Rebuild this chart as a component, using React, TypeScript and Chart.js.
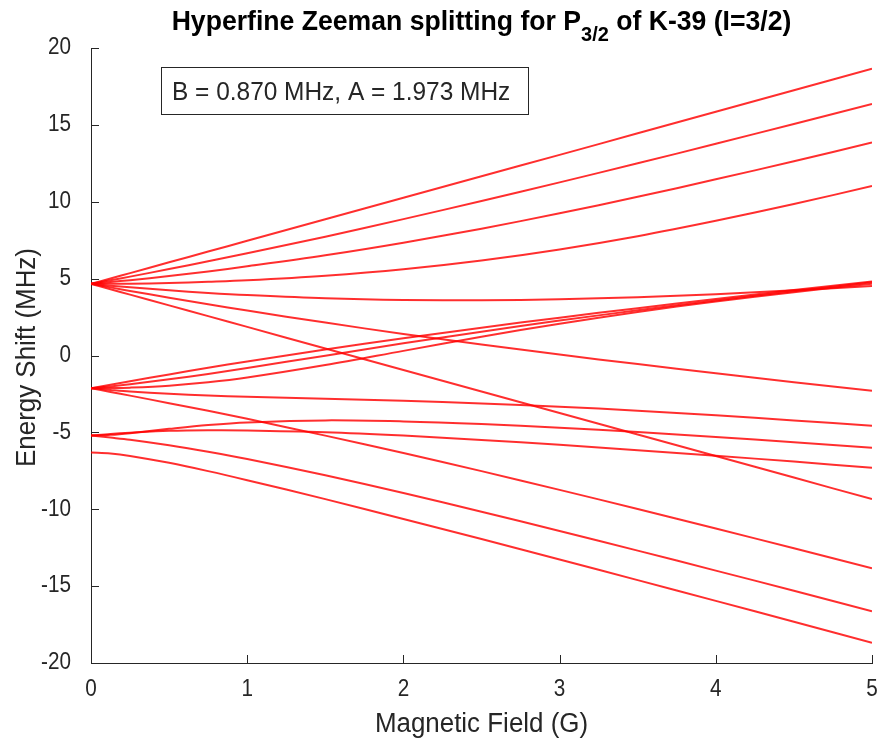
import React, { useEffect, useRef } from "react";
import { Chart, registerables } from "chart.js";

Chart.register(...registerables);

// Magnetic field samples (G)
const fieldG = [0, 0.125, 0.25, 0.5, 0.75, 1, 1.5, 2, 2.5, 3, 3.5, 4, 4.5, 5];

// Energy of each hyperfine sublevel (MHz), grouped by m_F
const mFplus3 = [4.66, 5.01, 5.36, 6.06, 6.76, 7.46, 8.86, 10.26, 11.66, 13.05, 14.45, 15.85, 17.25, 18.65];
const mFplus2a = [4.66, 4.89, 5.13, 5.62, 6.13, 6.65, 7.73, 8.87, 10.05, 11.26, 12.5, 13.77, 15.06, 16.36];
const mFplus1a = [4.66, 4.78, 4.9, 5.17, 5.47, 5.8, 6.52, 7.34, 8.25, 9.25, 10.32, 11.46, 12.63, 13.85];
const mFzeroA = [4.66, 4.66, 4.67, 4.71, 4.79, 4.89, 5.19, 5.61, 6.18, 6.9, 7.76, 8.76, 9.85, 11.02];
const mFminus1a = [4.66, 4.54, 4.44, 4.24, 4.07, 3.93, 3.72, 3.61, 3.59, 3.66, 3.79, 3.99, 4.24, 4.52];
const mFminus2a = [4.66, 4.43, 4.2, 3.76, 3.33, 2.92, 2.14, 1.4, 0.72, 0.06, -0.56, -1.16, -1.74, -2.3];
const mFminus3 = [4.66, 4.31, 3.96, 3.26, 2.56, 1.86, 0.46, -0.94, -2.34, -3.74, -5.14, -6.54, -7.94, -9.34];
const mFplus2b = [-2.13, -1.9, -1.67, -1.23, -0.8, -0.39, 0.39, 1.12, 1.81, 2.46, 3.08, 3.68, 4.26, 4.82];
const mFplus1b = [-2.13, -2.01, -1.87, -1.55, -1.2, -0.81, -0.01, 0.79, 1.55, 2.27, 2.94, 3.58, 4.18, 4.76];
const mFzeroB = [-2.13, -2.12, -2.09, -1.96, -1.74, -1.43, -0.62, 0.3, 1.22, 2.07, 2.83, 3.51, 4.12, 4.67];
const mFminus1b = [-2.13, -2.24, -2.34, -2.49, -2.6, -2.68, -2.81, -2.95, -3.12, -3.33, -3.59, -3.89, -4.22, -4.57];
const mFminus2b = [-2.13, -2.37, -2.61, -3.1, -3.6, -4.12, -5.21, -6.34, -7.52, -8.74, -9.98, -11.25, -12.54, -13.84];
const mFplus1c = [-5.21, -5.1, -5.02, -4.9, -4.86, -4.87, -4.99, -5.21, -5.49, -5.81, -6.16, -6.52, -6.9, -7.3];
const mFzeroC = [-5.21, -5.16, -5.05, -4.77, -4.52, -4.35, -4.22, -4.29, -4.46, -4.7, -4.98, -5.3, -5.64, -6.0];
const mFminus1c = [-5.21, -5.34, -5.48, -5.84, -6.26, -6.73, -7.79, -8.94, -10.16, -11.41, -12.69, -13.99, -15.3, -16.63];
const mFzeroD = [-6.31, -6.37, -6.53, -6.98, -7.52, -8.11, -9.34, -10.63, -11.94, -13.27, -14.61, -15.96, -17.32, -18.69];

const levels = [
  mFplus3, mFplus2a, mFplus1a, mFzeroA, mFminus1a, mFminus2a, mFminus3,
  mFplus2b, mFplus1b, mFzeroB, mFminus1b, mFminus2b,
  mFplus1c, mFzeroC, mFminus1c,
  mFzeroD,
];

const xTickValues = [0, 1, 2, 3, 4, 5];
const yTickValues = [-20, -15, -10, -5, 0, 5, 10, 15, 20];

const titleMain = "Hyperfine Zeeman splitting for P";
const titleSub = "3/2";
const titleTail = " of K-39 (I=3/2)";
const xTitle = "Magnetic Field (G)";
const yTitle = "Energy Shift (MHz)";
const noteText = "B = 0.870 MHz, A = 1.973 MHz";

const W = 883;
const H = 745;
const FONT = "'Liberation Sans', Arial, Helvetica, sans-serif";
const AXIS = "#262626";

type TextOpts = {
  size: number;
  bold?: boolean;
  align?: CanvasTextAlign;
  baseline?: CanvasTextBaseline;
  color?: string;
  rotate?: boolean;
  squeeze?: number;
};

function fontOf(o: TextOpts) {
  return `${o.bold ? "bold " : ""}${o.size}px ${FONT}`;
}

// Text is drawn slightly condensed, like a narrow Helvetica
function drawText(ctx: CanvasRenderingContext2D, text: string, x: number, y: number, o: TextOpts) {
  ctx.save();
  ctx.translate(x, y);
  if (o.rotate) ctx.rotate(-Math.PI / 2);
  ctx.scale(o.squeeze ?? 0.9, 1);
  ctx.font = fontOf(o);
  ctx.fillStyle = o.color ?? AXIS;
  ctx.textAlign = o.align ?? "left";
  ctx.textBaseline = o.baseline ?? "alphabetic";
  ctx.fillText(text, 0, 0);
  ctx.restore();
}

function textWidth(ctx: CanvasRenderingContext2D, text: string, o: TextOpts) {
  ctx.save();
  ctx.font = fontOf(o);
  const w = ctx.measureText(text).width * (o.squeeze ?? 0.9);
  ctx.restore();
  return w;
}

const decorations = {
  id: "decorations",
  afterDatasetsDraw(chart: any) {
    const ctx: CanvasRenderingContext2D = chart.ctx;
    const { left, right, top, bottom } = chart.chartArea;
    const xs = chart.scales.x;
    const ys = chart.scales.y;

    // inward tick marks
    ctx.save();
    ctx.strokeStyle = AXIS;
    ctx.lineWidth = 1;
    ctx.beginPath();
    for (const v of yTickValues) {
      const py = Math.round(ys.getPixelForValue(v)) + 0.5;
      ctx.moveTo(left, py);
      ctx.lineTo(left + 8, py);
    }
    for (const v of xTickValues) {
      const px = Math.round(xs.getPixelForValue(v)) + 0.5;
      ctx.moveTo(px, bottom);
      ctx.lineTo(px, bottom - 8);
    }
    ctx.stroke();
    ctx.restore();

    // tick labels
    for (const v of yTickValues) {
      drawText(ctx, String(v), left - 20, ys.getPixelForValue(v), { size: 23, align: "right", baseline: "middle" });
    }
    for (const v of xTickValues) {
      drawText(ctx, String(v), xs.getPixelForValue(v), bottom + 27, { size: 23, align: "center", baseline: "middle" });
    }

    // axis titles
    const axisFont = { size: 27, squeeze: 0.96, align: "center" as CanvasTextAlign };
    drawText(ctx, xTitle, (left + right) / 2, 732, axisFont);
    drawText(ctx, yTitle, 35, (top + bottom) / 2 + 2, { ...axisFont, rotate: true });

    // title with subscript
    const tMain = { size: 28, bold: true, color: "#000", squeeze: 0.95 };
    const tSub = { size: 21, bold: true, color: "#000", squeeze: 0.95 };
    const w1 = textWidth(ctx, titleMain, tMain);
    const w2 = textWidth(ctx, titleSub, tSub);
    const w3 = textWidth(ctx, titleTail, tMain);
    let tx = (left + right) / 2 - (w1 + w2 + w3) / 2;
    drawText(ctx, titleMain, tx, 30, tMain);
    tx += w1;
    drawText(ctx, titleSub, tx, 41, tSub);
    tx += w2;
    drawText(ctx, titleTail, tx, 30, tMain);

    // parameter box
    ctx.save();
    ctx.fillStyle = "#fff";
    ctx.fillRect(161, 67, 367, 47);
    ctx.strokeStyle = AXIS;
    ctx.lineWidth = 1;
    ctx.strokeRect(161.5, 67.5, 367, 47);
    ctx.restore();
    drawText(ctx, noteText, 172, 100, { size: 26, squeeze: 0.94 });
  },
};

export default function App() {
  const canvasRef = useRef<HTMLCanvasElement | null>(null);

  useEffect(() => {
    const canvas = canvasRef.current;
    if (!canvas) return;
    const datasets = levels.map((vals) => ({
      data: fieldG.map((b, i) => ({ x: b, y: vals[i] })),
      borderColor: "rgba(255, 0, 0, 0.82)",
      borderWidth: 2,
      pointRadius: 0,
      fill: false,
      tension: 0.35,
    }));
    const chart = new Chart(canvas, {
      type: "line",
      data: { datasets },
      options: {
        animation: false,
        responsive: false,
        devicePixelRatio: 1,
        layout: { padding: { top: 48, right: 11, bottom: 0, left: 0 } },
        plugins: {
          legend: { display: false },
          tooltip: { enabled: false },
          title: { display: false },
        },
        scales: {
          x: {
            type: "linear",
            min: 0,
            max: 5,
            ticks: { display: false, stepSize: 1 },
            grid: { display: false, drawTicks: false },
            border: { display: true, color: AXIS, width: 1 },
            afterFit: (s: any) => {
              s.height = 82;
            },
          },
          y: {
            type: "linear",
            min: -20,
            max: 20,
            ticks: { display: false, stepSize: 5 },
            grid: { display: false, drawTicks: false },
            border: { display: true, color: AXIS, width: 1 },
            afterFit: (s: any) => {
              s.width = 91;
            },
          },
        },
      },
      plugins: [decorations],
    });
    return () => chart.destroy();
  }, []);

  return (
    <div style={{ position: "fixed", left: 0, top: 0, width: W, height: H, background: "#fff" }}>
      <canvas ref={canvasRef} width={W} height={H} style={{ width: W, height: H, display: "block" }} />
    </div>
  );
}
